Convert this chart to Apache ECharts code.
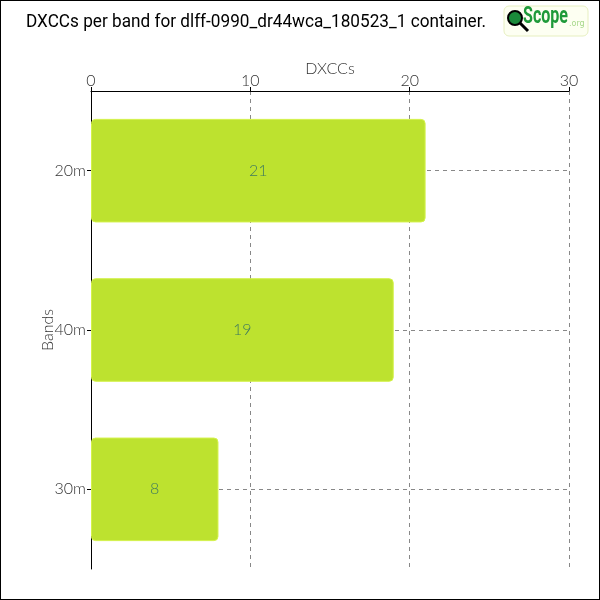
<!DOCTYPE html>
<html>
<head>
<meta charset="utf-8">
<script src="https://cdn.jsdelivr.net/npm/echarts@6/dist/echarts.min.js"></script>
<style>
html,body{margin:0;padding:0;background:#fff;}
#chart{width:600px;height:600px;box-sizing:border-box;border:1px solid #000;}
</style>
</head>
<body>
<div id="chart"></div>
<script>
var categories = ['20m', '40m', '30m'];
var values = [21, 19, 8];
var xTicks = { min: 0, max: 30, interval: 10 };
var titleText = 'DXCCs per band for dlff-0990_dr44wca_180523_1 container.';

function measure(text, font) {
  var c = document.createElement('canvas').getContext('2d');
  c.font = font;
  return c.measureText(text).width;
}
var titleFont = 'Roboto';
var titleW = measure(titleText, '18px ' + titleFont);
var titleScale = 460 / titleW;
var scopeW = measure('Scope', 'bold 23px Roboto');
var scopeScale = 45 / scopeW;

var chart = echarts.init(document.getElementById('chart'), null, { renderer: 'canvas' });
var thinFont = 'Lato';
var lblColor = '#333';
chart.setOption({
  animation: false,
  grid: { left: 90, right: 30, top: 90, bottom: 30, containLabel: false },
  xAxis: {
    type: 'value', position: 'top',
    min: xTicks.min, max: xTicks.max, interval: xTicks.interval,
    name: 'DXCCs', nameLocation: 'middle', nameGap: 14, nameMoveOverlap: false,
    nameTextStyle: { fontFamily: thinFont, fontWeight: 300, fontSize: 16, color: lblColor },
    axisLine: { show: true, lineStyle: { color: '#000', width: 1 } },
    axisTick: { show: true, length: 4, lineStyle: { color: '#000' } },
    axisLabel: { margin: 2, fontFamily: thinFont, fontWeight: 300, fontSize: 16, color: lblColor },
    splitLine: { show: true, lineStyle: { color: '#888', type: [4, 4], width: 1 } }
  },
  yAxis: {
    type: 'category', inverse: true, data: categories,
    name: 'Bands', nameLocation: 'middle', nameGap: 35, nameRotate: 90, nameMoveOverlap: false,
    nameTextStyle: { fontFamily: thinFont, fontWeight: 300, fontSize: 16, color: lblColor },
    axisLine: { show: true, lineStyle: { color: '#000', width: 1 } },
    axisTick: { show: true, alignWithLabel: true, length: 4, lineStyle: { color: '#000' } },
    axisLabel: { margin: 5, fontFamily: thinFont, fontWeight: 300, fontSize: 16, color: lblColor },
    splitLine: { show: true, alignWithLabel: true, lineStyle: { color: '#888', type: [4, 4], width: 1 } }
  },
  series: [{
    type: 'bar',
    data: values,
    barCategoryGap: '35%',
    itemStyle: { color: '#bde22f', borderColor: '#d4f24a', borderWidth: 1, borderRadius: 4 },
    label: { show: true, position: 'inside', fontFamily: thinFont, fontWeight: 300, fontSize: 16, color: '#3f7a5f' }
  }],
  graphic: [
    { type: 'text', x: 25, y: 12, scaleX: titleScale,
      style: { x: 0, y: 0, text: titleText, fontFamily: titleFont, fontSize: 18, fill: '#000' } },
    { type: 'rect', shape: { x: 503, y: 5, width: 84, height: 30, r: 5 }, style: { fill: '#fdfff2', stroke: '#e6efc0', lineWidth: 1 } },
    { type: 'line', shape: { x1: 518, y1: 21, x2: 527, y2: 30 }, style: { stroke: '#000', lineWidth: 3 } },
    { type: 'circle', shape: { cx: 514, cy: 17, r: 7 }, style: { fill: '#1a8a3a', stroke: '#000', lineWidth: 2 } },
    { type: 'text', x: 522, y: 5, scaleX: scopeScale,
      style: { x: 0, y: 0, text: 'Scope', fontFamily: 'Roboto', fontWeight: 'bold', fontSize: 23, fill: '#1f9a3a' } },
    { type: 'text', style: { x: 568, y: 19, text: '.org', fontFamily: 'DejaVu Sans', fontSize: 8, fill: '#a6d88a' } }
  ]
});
</script>
</body>
</html>
